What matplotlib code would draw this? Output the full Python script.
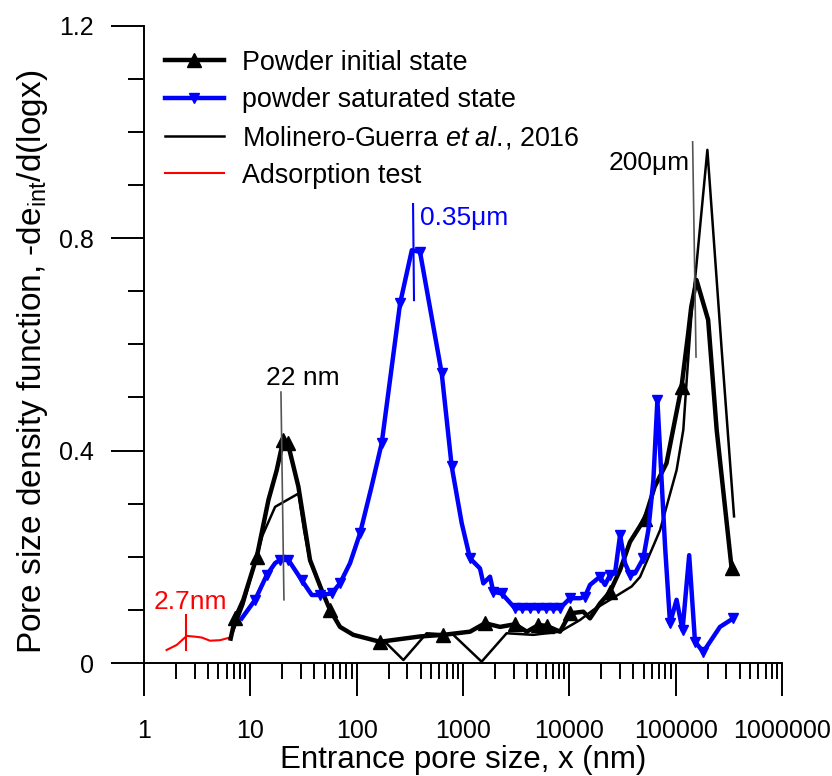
import numpy as np
import matplotlib
matplotlib.use("Agg")
import matplotlib.pyplot as plt
from matplotlib.lines import Line2D
from matplotlib.ticker import LogLocator, FixedLocator, NullFormatter

plt.rcParams['font.family'] = ['Liberation Sans', 'DejaVu Sans']
plt.rcParams['mathtext.fontset'] = 'custom'
plt.rcParams['mathtext.rm'] = 'Liberation Sans'
plt.rcParams['mathtext.it'] = 'Liberation Sans:italic'

# powder, initial state (MIP)
init_x = [6.53, 7.18, 8.59, 11.5, 14.8, 17.7, 20.4, 22.5, 28.3, 36.4, 46.9, 56.1, 69.7, 93, 165.7,
          394, 653, 1164, 1611, 2228, 3083, 3981, 5108, 6123, 8170, 10150, 13530, 15640, 19400,
          24130, 29990, 37210, 51200, 63500, 82000, 113500, 131000, 140000, 157000, 202000,
          243000, 336000]
init_y = [0.046, 0.084, 0.119, 0.2, 0.307, 0.363, 0.42, 0.414, 0.332, 0.194, 0.137, 0.1, 0.068,
          0.053, 0.04, 0.05, 0.053, 0.059, 0.075, 0.068, 0.073, 0.059, 0.0715, 0.07, 0.059, 0.0935,
          0.0966, 0.084, 0.112, 0.134, 0.175, 0.228, 0.272, 0.332, 0.376, 0.52, 0.62, 0.67, 0.721,
          0.646, 0.439, 0.178]
init_marks = [1, 3, 6, 7, 11, 14, 16, 18, 20, 22, 23, 25, 29, 32, 35, 41]

# powder, saturated state (MIP)
sat_x = [8.3, 11.1, 14.3, 17.1, 19.0, 22.8, 30.4, 37.8, 45.2, 58.2, 69.7, 86.6, 107.5, 138, 172,
         256, 330, 394, 631, 783, 973, 1164, 1445, 1553, 1795, 1929, 2311, 3083, 3600, 4300, 5100,
         6000, 7000, 8170, 10150, 12600, 14040, 15640, 19400, 21640, 24130, 26900, 29990, 33400,
         37210, 41500, 49600, 55300, 61700, 67300, 71300, 79500, 88500, 102000, 116000, 134000,
         152000, 182000, 261000, 348000]
sat_y = [0.084, 0.119, 0.166, 0.188, 0.194, 0.194, 0.156, 0.128, 0.128, 0.131, 0.15, 0.188, 0.244,
         0.332, 0.414, 0.677, 0.777, 0.774, 0.545, 0.37, 0.263, 0.197, 0.178, 0.15, 0.1625, 0.134,
         0.131, 0.103, 0.103, 0.103, 0.103, 0.103, 0.103, 0.103, 0.122, 0.122, 0.125, 0.147,
         0.1625, 0.147, 0.1656, 0.169, 0.241, 0.188, 0.166, 0.169, 0.197, 0.25, 0.344, 0.495, 0.4,
         0.219, 0.075, 0.119, 0.062, 0.203, 0.04, 0.021, 0.068, 0.084]
sat_marks = [1, 2, 4, 5, 6, 8, 9, 10, 12, 14, 15, 17, 18, 19, 21, 25, 26, 27, 28, 29, 30, 31, 32,
             33, 34, 36, 38, 40, 42, 44, 46, 49, 52, 54, 56, 57, 59]

# Molinero-Guerra et al., 2016
mol_x = [6.9, 8.6, 11.5, 13, 17.1, 28.3, 32, 36.4, 46.9, 56, 70, 93, 165, 191, 275, 455, 811,
         1496, 2570, 4580, 8170, 12600, 16830, 24130, 38500, 46240, 71300, 102000, 118000, 127000,
         140000, 157000, 198700, 271000, 354000]
mol_y = [0.06, 0.11, 0.2, 0.24, 0.294, 0.319, 0.25, 0.19, 0.137, 0.1, 0.068, 0.053, 0.04, 0.037,
         0.0056, 0.056, 0.053, 0.0025, 0.056, 0.053, 0.059, 0.081, 0.1, 0.119, 0.144, 0.162, 0.25,
         0.363, 0.439, 0.533, 0.65, 0.75, 0.966, 0.589, 0.276]

# adsorption test
ads_x = [1.63, 2.03, 2.52, 3.02, 3.49, 4.17, 5.19, 6.44]
ads_y = [0.0245, 0.034, 0.051, 0.0496, 0.048, 0.042, 0.043, 0.048]

fig = plt.figure(figsize=(8.32, 7.76), dpi=100)
ax = fig.add_axes([0.1731, 0.1456, 0.9399 - 0.1731, 0.9671 - 0.1456])

ax.plot(ads_x, ads_y, color='red', lw=1.5)
ax.plot(mol_x, mol_y, color='black', lw=1.8)
ax.plot(init_x, init_y, color='black', lw=3.2)
ax.plot(np.array(init_x)[init_marks], np.array(init_y)[init_marks], ls='none',
        marker='^', ms=10, color='black')
ax.plot(sat_x, sat_y, color='blue', lw=3.2)
ax.plot(np.array(sat_x)[sat_marks], np.array(sat_y)[sat_marks], ls='none',
        marker='v', ms=6.5, color='blue')

# annotations
ax.text(31.3, 0.536, '22 nm', fontsize=19, ha='center', va='center')
ax.plot([19.4, 20.7], [0.51, 0.119], color='#555555', lw=1.2)
ax.text(136500, 0.941, '200μm', fontsize=19, ha='right', va='center')
ax.plot([144400, 155400], [0.981, 0.576], color='#555555', lw=1.2)
ax.text(394, 0.838, '0.35μm', fontsize=19, ha='left', va='center', color='blue')
ax.plot([339, 346], [0.864, 0.683], color='blue', lw=1.5)
ax.text(2.71, 0.115, '2.7nm', fontsize=19, ha='center', va='center', color='red')
ax.plot([2.48, 2.48], [0.09, 0.0245], color='red', lw=1.5)

ax.set_xscale('log')
ax.set_xlim(1, 1e6)
ax.set_ylim(0, 1.2)
ax.set_xticks([1, 10, 100, 1000, 10000, 100000, 1000000])
ax.set_xticklabels(['1', '10', '100', '1000', '10000', '100000', '1000000'])
ax.xaxis.set_minor_locator(LogLocator(base=10, subs=np.arange(2, 10), numticks=20))
ax.xaxis.set_minor_formatter(NullFormatter())
ax.set_yticks([0, 0.4, 0.8, 1.2])
ax.set_yticklabels(['0', '0.4', '0.8', '1.2'])
ax.yaxis.set_minor_locator(FixedLocator(np.arange(0, 1.21, 0.1)))

for s in ['top', 'right']:
    ax.spines[s].set_visible(False)
for s in ['left', 'bottom']:
    ax.spines[s].set_linewidth(1.4)

ax.tick_params(which='major', length=24, width=1.4, labelsize=18)
ax.tick_params(which='minor', length=11.5, width=1.4)
ax.tick_params(axis='x', which='major', pad=16)
ax.tick_params(axis='y', which='major', pad=12)

ax.set_xlabel('Entrance pore size, x (nm)', fontsize=22.5, labelpad=2)
ax.set_ylabel('Pore size density function, -de$_{\\mathrm{int}}$/d(logx)', fontsize=24)
ax.yaxis.set_label_coords(-0.148, 0.472)

handles = [
    Line2D([], [], color='black', lw=3.2, marker='^', ms=10),
    Line2D([], [], color='blue', lw=3.2, marker='v', ms=6.5),
    Line2D([], [], color='black', lw=1.8),
    Line2D([], [], color='red', lw=1.5),
]
labels = ['Powder initial state', 'powder saturated state',
          'Molinero-Guerra $\\it{et\\ al.}\\!$, 2016', 'Adsorption test']
fig.legend(handles, labels, loc='upper left', bbox_to_anchor=(0.198, 0.936),
           frameon=False, fontsize=19.4, handlelength=2.2, handletextpad=0.65,
           labelspacing=0.42, borderpad=0, borderaxespad=0)

fig.savefig('out.png', dpi=100)
